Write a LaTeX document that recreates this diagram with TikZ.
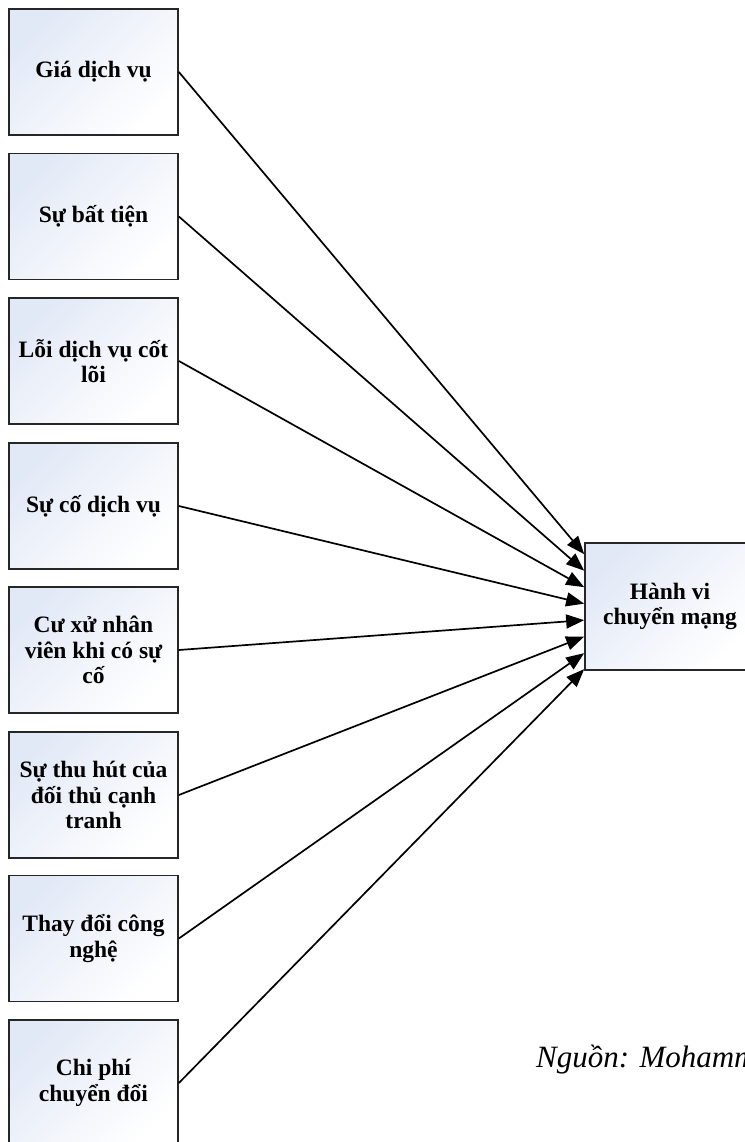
\documentclass[tikz,border=0pt]{standalone}
\usepackage{fontspec}
\setmainfont{Liberation Serif}
\usetikzlibrary{arrows.meta,calc}
\definecolor{boxtint}{RGB}{226,233,246}
\begin{document}
\begin{tikzpicture}[x=1pt,y=-1pt,
  factor/.style={draw=black!85, line width=1.7pt, rectangle,
    top color=boxtint, bottom color=white, shading angle=45,
    minimum width=169pt, minimum height=126pt, align=center,
    inner sep=2pt,
    font=\fontsize{23.5}{25.5}\selectfont\bfseries},
  link/.style={line width=1.7pt, -{Triangle[length=18pt,width=14pt]}}]
  \useasboundingbox (0,0) rectangle (744,1142);

  % factors on the left
  \node[factor] (f1) at (93.5,72)   {Giá dịch vụ};
  \node[factor] (f2) at (93.5,216.5){Sự bất tiện};
  \node[factor] (f3) at (93.5,361)  {Lỗi dịch vụ cốt\\lõi};
  \node[factor] (f4) at (93.5,506)  {Sự cố dịch vụ};
  \node[factor] (f5) at (93.5,650)  {Cư xử nhân\\viên khi có sự\\cố};
  \node[factor] (f6) at (93.5,795)  {Sự thu hút của\\đối thủ cạnh\\tranh};
  \node[factor] (f7) at (93.5,938.5){Thay đổi công\\nghệ};
  \node[factor] (f8) at (93.5,1083) {Chi phí\\chuyển đổi};

  % outcome on the right
  \node[factor, minimum width=170pt, minimum height=127pt] (hv) at (670,606.5) {Hành vi\\chuyển mạng};

  % arrow landing points along the left side of the outcome box
  \foreach \i/\d in {1/12,2/28.5,3/45,4/61.5,5/78,6/94.5,7/111,8/127}{
    \coordinate (t\i) at ($(hv.north west)+(0,\d)$);
  }
  \foreach \i in {1,...,8}{
    \draw[link] (f\i.east) -- (t\i);
  }

  % source line, running off the right edge
  \node[anchor=base west, inner sep=0pt, font=\fontsize{31}{36}\selectfont\itshape] (src) at (536,1067) {Nguồn: Mohamm};
\end{tikzpicture}
\end{document}
